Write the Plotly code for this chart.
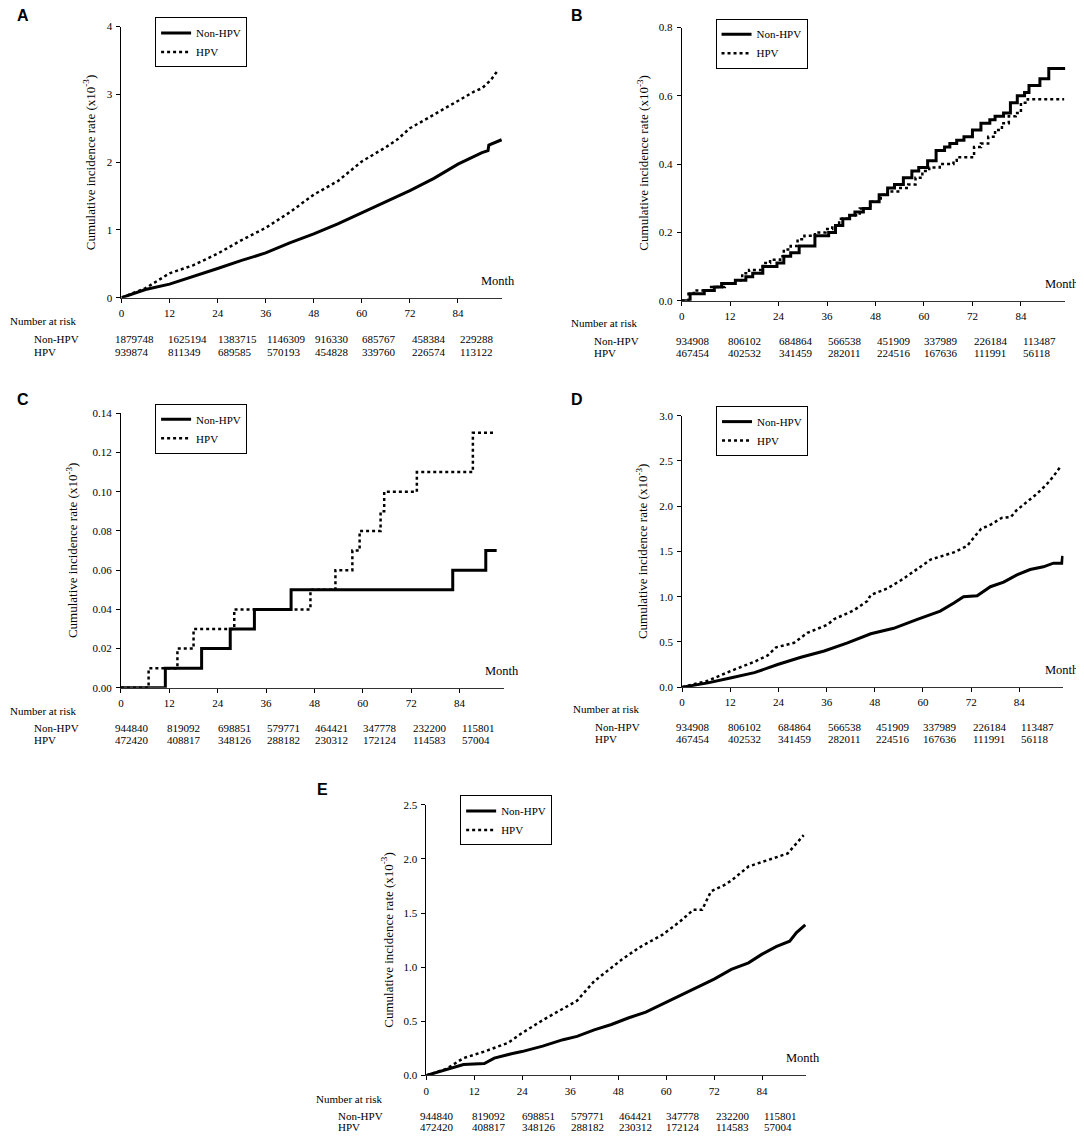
import plotly.graph_objects as go

W, H = 1084, 1147
# the page body keeps its default 8px margin, so the figure starts 8px in
PAD = 8
FW, FH = W - PAD, H - PAD

month_ticks = [0, 12, 24, 36, 48, 60, 72, 84]

# --- A ---
a_non_x = [0, 6, 12, 18, 24, 30, 36, 42, 48, 54, 60, 66, 72, 78, 84, 90, 91.5, 91.7, 94.9]
a_non_y = [0, 0.12, 0.20, 0.31, 0.43, 0.55, 0.66, 0.81, 0.94, 1.09, 1.25, 1.41, 1.58, 1.76, 1.97, 2.14, 2.17, 2.25, 2.33]
a_hpv_x = [0, 6, 12, 18, 24, 30, 36, 42, 48, 54, 60, 66, 69, 72, 78, 84, 88, 90, 92.2, 93.9]
a_hpv_y = [0, 0.14, 0.36, 0.48, 0.65, 0.85, 1.03, 1.26, 1.52, 1.72, 2.01, 2.22, 2.34, 2.50, 2.70, 2.91, 3.04, 3.09, 3.21, 3.35]
a_risk_non = [1879748, 1625194, 1383715, 1146309, 916330, 685767, 458384, 229288]
a_risk_hpv = [939874, 811349, 689585, 570193, 454828, 339760, 226574, 113122]

# --- B ---
b_non_x = [0, 2.1, 5.6, 8.1, 9.9, 13.3, 15.9, 17.6, 20.1, 23.6, 25.3, 27, 29.1, 33, 36.4,
           38.1, 39.9, 41.6, 42.9, 45, 46.7, 48.9, 51, 52.7, 54.9, 57, 58.7, 60.9, 63, 65.1,
           66.4, 68.1, 69.9, 72, 74.1, 76.3, 77.6, 79.7, 81.4, 83.1, 84.9, 86, 88.7, 90.9, 95]
b_non_y = [0, 0.02, 0.03, 0.04, 0.05, 0.06, 0.07, 0.08, 0.10, 0.11, 0.13, 0.14, 0.16, 0.19, 0.20,
           0.22, 0.24, 0.25, 0.26, 0.27, 0.29, 0.31, 0.33, 0.34, 0.36, 0.38, 0.39, 0.41, 0.44, 0.45,
           0.46, 0.47, 0.48, 0.50, 0.52, 0.53, 0.54, 0.55, 0.58, 0.60, 0.61, 0.63, 0.65, 0.68, 0.68]
b_hpv_x = [0, 1.7, 3, 7.3, 10.7, 13.3, 15, 16.7, 20.1, 21.9, 24.4, 25.3, 27, 28.7, 30.4,
           33, 35.6, 37.3, 39, 41.6, 44.1, 46.7, 49.3, 51, 53.6, 56.1, 57.9, 59.6, 61.3, 63.9,
           67.3, 68.1, 71.1, 72.4, 74.1, 75.9, 77.6, 79.3, 81, 82.7, 84, 85.7, 94.7]
b_hpv_y = [0, 0.02, 0.03, 0.04, 0.05, 0.06, 0.08, 0.09, 0.11, 0.12, 0.13, 0.15, 0.16, 0.18, 0.19,
           0.20, 0.21, 0.22, 0.24, 0.25, 0.27, 0.29, 0.31, 0.32, 0.33, 0.34, 0.36, 0.38, 0.39, 0.40,
           0.41, 0.42, 0.42, 0.45, 0.46, 0.48, 0.50, 0.52, 0.54, 0.55, 0.58, 0.59, 0.59]
b_risk_non = [934908, 806102, 684864, 566538, 451909, 337989, 226184, 113487]
b_risk_hpv = [467454, 402532, 341459, 282011, 224516, 167636, 111991, 56118]

# --- C ---
c_non_x = [0, 11.0, 20.0, 27.1, 33.1, 42.2, 82.3, 90.5, 93.2]
c_non_y = [0, 0.01, 0.02, 0.03, 0.04, 0.05, 0.06, 0.07, 0.07]
c_hpv_x = [0, 6.85, 14.0, 18.0, 28.1, 47.0, 53.2, 57.4, 59.2, 64.4, 65.3, 73.4, 87.3, 93.0]
c_hpv_y = [0, 0.01, 0.02, 0.03, 0.04, 0.05, 0.06, 0.07, 0.08, 0.09, 0.10, 0.11, 0.13, 0.13]
c_risk_non = [944840, 819092, 698851, 579771, 464421, 347778, 232200, 115801]
c_risk_hpv = [472420, 408817, 348126, 288182, 230312, 172124, 114583, 57004]

# --- D ---
d_non_x = [0, 6.4, 12.0, 18.0, 23.8, 29.6, 35.4, 41.2, 47.0, 52.7, 58.6, 64.3, 67.7, 70.1,
           73.5, 76.8, 80.1, 83.4, 86.7, 90.0, 92.5, 94.6, 94.8]
d_non_y = [0, 0.047, 0.10, 0.16, 0.25, 0.33, 0.40, 0.49, 0.59, 0.65, 0.75, 0.84, 0.93, 1.00,
           1.01, 1.11, 1.16, 1.24, 1.30, 1.33, 1.37, 1.37, 1.45]
d_hpv_x = [0, 6.4, 12.2, 18.0, 21.3, 23.4, 27.9, 31.2, 36.2, 37.8, 42.8, 46.1, 47.0, 51.1, 55.2,
           59.4, 61.9, 67.7, 71.0, 72.6, 74.5, 77.0, 79.6, 81.9, 83.2, 85.7, 88.2, 90.8, 92.5, 94.3]
d_hpv_y = [0, 0.07, 0.18, 0.28, 0.35, 0.44, 0.49, 0.60, 0.69, 0.75, 0.85, 0.95, 1.02, 1.09, 1.20,
           1.33, 1.41, 1.49, 1.56, 1.65, 1.75, 1.80, 1.87, 1.88, 1.95, 2.04, 2.13, 2.24, 2.33, 2.44]
d_risk_non = b_risk_non
d_risk_hpv = b_risk_hpv

# --- E ---
e_non_x = [0, 5.0, 9.3, 14.5, 17.0, 21.3, 23.9, 29.1, 34.2, 37.7, 42.0, 46.3, 50.5, 54.9, 59.1,
           63.4, 67.7, 72.0, 76.3, 80.6, 84.0, 87.5, 90.9, 92.6, 94.8]
e_non_y = [0, 0.05, 0.10, 0.11, 0.16, 0.20, 0.22, 0.27, 0.33, 0.36, 0.42, 0.47, 0.53, 0.585, 0.66,
           0.73, 0.81, 0.89, 0.98, 1.04, 1.12, 1.19, 1.24, 1.32, 1.39]
e_hpv_x = [0, 5.0, 9.3, 14.5, 20.4, 23.9, 29.1, 34.2, 37.7, 42.0, 46.3, 48.9, 53.2, 59.1, 63.4,
           66.8, 69.0, 71.2, 74.6, 76.3, 80.6, 86.6, 90.4, 91.8, 94.4]
e_hpv_y = [0, 0.06, 0.16, 0.22, 0.30, 0.39, 0.51, 0.62, 0.69, 0.87, 1.00, 1.07, 1.18, 1.30, 1.42,
           1.53, 1.53, 1.70, 1.76, 1.80, 1.93, 2.00, 2.05, 2.11, 2.22]
e_risk_non = c_risk_non
e_risk_hpv = c_risk_hpv

SERIF = "Liberation Serif"
SANS = "Liberation Sans"


def fx(p):
    return (p - PAD) / FW


def fy(p):
    return 1 - (p - PAD) / FH


# pixel geometry of each panel in the page (left, right / top, bottom) and text anchors
panels = [
    dict(letter='A', xd=(118.8, 500.4), yd=(20.7, 294.7), yr=4, dt=1, fmt='d',
         non=(a_non_x, a_non_y), hpv=(a_hpv_x, a_hpv_y), shape='linear',
         risk=(a_risk_non, a_risk_hpv), let=(20, 10), leg=(152.5, 11.5),
         month=(496.5, 277.7), ytitle=(87, 158),
         nar=(5, 318.3), lab_x=29, rows=(336, 349.3)),
    dict(letter='B', xd=(680.5, 1065.3), yd=(21.7, 297.7), yr=0.8, dt=0.2, fmt='.1f',
         non=(b_non_x, b_non_y), hpv=(b_hpv_x, b_hpv_y), shape='hv',
         risk=(b_risk_non, b_risk_hpv), let=(575.5, 9.5), leg=(714.5, 12.7),
         month=(1062, 281), ytitle=(642, 159),
         nar=(567.8, 320.7), lab_x=591, rows=(338.3, 350.7)),
    dict(letter='C', xd=(118.3, 502.3), yd=(411.5, 689), yr=0.14, dt=0.02, fmt='.2f',
         non=(c_non_x, c_non_y), hpv=(c_hpv_x, c_hpv_y), shape='hv',
         risk=(c_risk_non, c_risk_hpv), let=(19.8, 398), leg=(152.5, 402),
         month=(500.5, 671.7), ytitle=(69, 550),
         nar=(5, 712), lab_x=29, rows=(729.3, 741.7)),
    dict(letter='D', xd=(681, 1063.4), yd=(414, 688.3), yr=3.0, dt=0.5, fmt='.1f',
         non=(d_non_x, d_non_y), hpv=(d_hpv_x, d_hpv_y), shape='linear',
         risk=(d_risk_non, d_risk_hpv), let=(576, 398), leg=(715, 404.3),
         month=(1062, 671), ytitle=(640.6, 551),
         nar=(569.6, 710.7), lab_x=592, rows=(728.3, 741)),
    dict(letter='E', xd=(424.5, 805.3), yd=(807.2, 1080.7), yr=2.5, dt=0.5, fmt='.1f',
         non=(e_non_x, e_non_y), hpv=(e_hpv_x, e_hpv_y), shape='linear',
         risk=(e_risk_non, e_risk_hpv), let=(320.6, 791.7), leg=(458.4, 797.7),
         month=(802, 1063.3), ytitle=(385.6, 944),
         nar=(312, 1104.3), lab_x=334.4, rows=(1121.7, 1133.3)),
]

num_shift = [-8, -4, -2, -1, -1, -2, 0, 0]

fig = go.Figure()
annotations = []
layout = dict(
    width=FW, height=FH,
    margin=dict(l=0, r=0, t=0, b=0),
    paper_bgcolor='white', plot_bgcolor='white',
    font=dict(family=SERIF, size=11, color='black'),
)


def note(text, x, y, size=11, family=SERIF, weight='normal', xanchor='center', xref='paper', **kw):
    d = dict(text=text, x=x, y=y, xref=xref, yref='paper', showarrow=False,
             xanchor=xanchor, yanchor='middle',
             font=dict(family=family, size=size, color='black', weight=weight))
    d.update(kw)
    return d


for i, p in enumerate(panels, start=1):
    xs = '' if i == 1 else str(i)
    leg = 'legend' if i == 1 else 'legend' + str(i)

    fig.add_trace(go.Scatter(
        x=p['non'][0], y=p['non'][1], mode='lines', name='Non-HPV',
        line=dict(color='black', width=3, shape=p['shape']),
        xaxis='x' + xs, yaxis='y' + xs, legend=leg))
    fig.add_trace(go.Scatter(
        x=p['hpv'][0], y=p['hpv'][1], mode='lines', name='HPV',
        line=dict(color='black', width=2.5, dash='dot', shape=p['shape']),
        xaxis='x' + xs, yaxis='y' + xs, legend=leg))

    layout['xaxis' + xs] = dict(
        domain=[fx(p['xd'][0]), fx(p['xd'][1])], range=[0, 95],
        anchor='y' + xs, tickvals=month_ticks, ticks='outside', ticklen=4,
        tickcolor='black', showline=True, linecolor='#333', linewidth=1,
        showgrid=False, zeroline=False, ticklabelstandoff=1,
        tickfont=dict(family=SERIF, size=11))
    layout['yaxis' + xs] = dict(
        domain=[fy(p['yd'][1]), fy(p['yd'][0])], range=[0, p['yr']],
        anchor='x' + xs, dtick=p['dt'], tick0=0, tickformat=p['fmt'],
        ticks='outside', ticklen=4, tickcolor='black', showline=True,
        linecolor='black', linewidth=1, showgrid=False, zeroline=False,
        ticklabelstandoff=2, tickfont=dict(family=SERIF, size=11))

    layout[leg] = dict(
        x=fx(p['leg'][0]), y=fy(p['leg'][1]), xanchor='left', yanchor='top',
        bordercolor='black', borderwidth=1, bgcolor='white',
        font=dict(family=SERIF, size=11), itemwidth=30, tracegroupgap=0)

    annotations.append(note(p['letter'], fx(p['let'][0]), fy(p['let'][1]),
                            size=16, family=SANS, weight='bold'))
    annotations.append(note('Month', fx(p['month'][0]), fy(p['month'][1]), size=12.5))
    annotations.append(note('Cumulative incidence rate (x10<sup>-3</sup>)',
                            fx(p['ytitle'][0]), fy(p['ytitle'][1]), size=13, textangle=-90))
    annotations.append(note('Number at risk', fx(p['nar'][0]), fy(p['nar'][1]), xanchor='left'))
    for lab, yy, vals in zip(['Non-HPV', 'HPV'], p['rows'], p['risk']):
        annotations.append(note(lab, fx(p['lab_x']), fy(yy), xanchor='left'))
        for t, v, s in zip(month_ticks, vals, num_shift):
            annotations.append(note(str(v), t, fy(yy), xanchor='left', xref='x' + xs, xshift=s))

layout['annotations'] = annotations
fig.update_layout(**layout)

fig.write_html("out.html")
